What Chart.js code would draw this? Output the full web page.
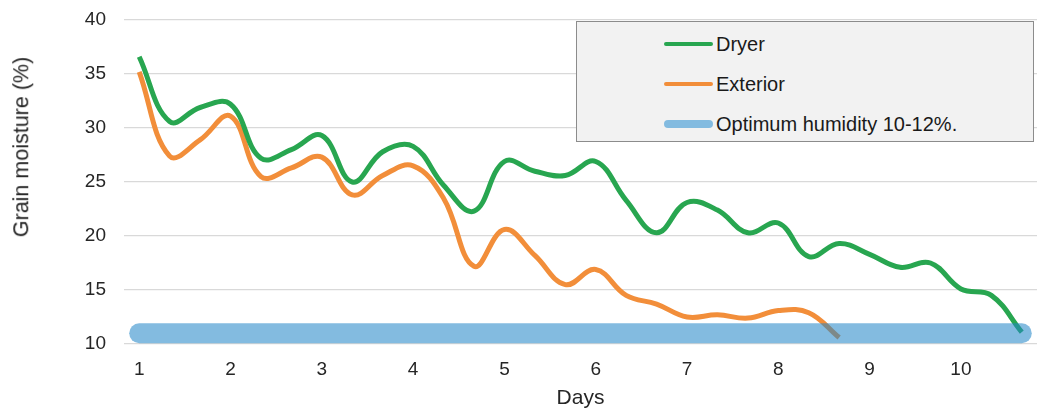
<!DOCTYPE html>
<html>
<head>
<meta charset="utf-8">
<script src="https://cdn.jsdelivr.net/npm/chart.js@4"></script>
<style>
  body { margin: 0; background: #fff; font-family: "Liberation Sans", Arial, sans-serif; }
  #wrap { position: relative; width: 1037px; height: 414px; }
  #legend {
    position: absolute; left: 576px; top: 21px; width: 458px; height: 121px;
    background: #f2f2f2; border: 1px solid #8c8c8c; box-sizing: border-box;
  }
  .item { position: absolute; left: 87px; height: 24px; display: flex; align-items: center; font-size: 20px; color: #1a1a1a; }
  .swatch { width: 49px; border-radius: 4px; margin-right: 3px; }
  #ytitle {
    position: absolute; left: 22px; top: 147px; white-space: nowrap;
    font-size: 21.5px; color: #262626; line-height: 1;
    transform: translate(-50%, -50%) rotate(-90deg);
  }
</style>
</head>
<body>
<div id="wrap">
  <canvas id="linechart" width="1037" height="414"></canvas>
  <div id="ytitle">Grain moisture (%)</div>
  <div id="legend"></div>
</div>
<script>
const days = [1, 2, 3, 4, 5, 6, 7, 8, 9, 10];
// three readings per day, only the first one carries the day label
const labels = days.flatMap(d => [String(d), '', '']);

const dryer = [36.6, 30.6, 31.9, 32.2, 27.2, 28.0, 29.3, 25.0, 27.8, 28.3,
               24.7, 22.3, 26.9, 26.0, 25.6, 26.9, 23.3, 20.3, 23.1, 22.4,
               20.3, 21.2, 18.1, 19.3, 18.3, 17.1, 17.5, 15.1, 14.5, 11.1];
const exterior = [35.2, 27.4, 28.9, 31.1, 25.5, 26.3, 27.3, 23.8, 25.6, 26.5,
                  23.5, 17.2, 20.6, 18.2, 15.5, 16.9, 14.5, 13.7, 12.5, 12.7,
                  12.4, 13.1, 12.9, 10.6];
const optimum = [11, 11, 11, 11, 11, 11, 11, 11, 11, 11,
                 11, 11, 11, 11, 11, 11, 11, 11, 11, 11,
                 11, 11, 11, 11, 11, 11, 11, 11, 11, 11];

const yTicks = [10, 15, 20, 25, 30, 35, 40];

const ctx = document.getElementById('linechart');

const chart = new Chart(ctx, {
    type: 'line',
    data: {
        labels: labels,
        datasets: [{
            label: 'Dryer',
            data: dryer,
            borderColor: 'rgb(40, 166, 80)',
            borderWidth: 5,
            tension: 0.4,
            pointRadius: 0,
            swatch: 4
        }, {
            label: 'Exterior',
            data: exterior,
            borderColor: 'rgb(242, 142, 58)',
            borderWidth: 5,
            tension: 0.4,
            pointRadius: 0,
            swatch: 4
        }, {
            label: 'Optimum humidity 10-12%.',
            data: optimum,
            borderColor: 'rgba(34, 134, 200, 0.56)',
            borderWidth: 20,
            borderCapStyle: 'round',
            pointRadius: 0,
            order: -1,
            clip: false,
            swatch: 8
        }]
    },
    options: {
        responsive: false,
        animation: false,
        layout: {
            padding: { top: 0, right: -4, bottom: 0, left: 0 }
        },
        plugins: {
            legend: { display: false },
            tooltip: { enabled: false }
        },
        scales: {
            x: {
                offset: true,
                afterFit: scale => { scale.height = 70; },
                grid: { display: false, drawTicks: false },
                border: { display: false },
                ticks: {
                    autoSkip: false,
                    maxRotation: 0,
                    padding: 14,
                    color: '#262626',
                    font: { family: 'Liberation Sans', size: 19 }
                },
                title: {
                    display: true,
                    text: 'Days',
                    color: '#262626',
                    padding: { top: 4, bottom: 3 },
                    font: { family: 'Liberation Sans', size: 21 }
                }
            },
            y: {
                min: 10,
                max: 40,
                afterBuildTicks: scale => { scale.ticks = yTicks.map(v => ({ value: v })); },
                afterFit: scale => {
                    scale.width = 124;
                    scale.paddingTop = 20;
                    scale.paddingBottom = 0;
                },
                grid: { color: '#d9d9d9', lineWidth: 1.2, drawTicks: false },
                border: { display: false },
                ticks: {
                    padding: 18,
                    color: '#262626',
                    font: { family: 'Liberation Sans', size: 19 }
                }
            }
        }
    }
});

// legend box in the upper right, built from the datasets
const legend = document.getElementById('legend');
chart.data.datasets.forEach((ds, i) => {
    const item = document.createElement('div');
    item.className = 'item';
    item.style.top = (10 + i * 40) + 'px';
    const sw = document.createElement('span');
    sw.className = 'swatch';
    sw.style.height = ds.swatch + 'px';
    sw.style.background = i === 2 ? 'rgb(131, 187, 224)' : ds.borderColor;
    item.appendChild(sw);
    item.appendChild(document.createTextNode(ds.label));
    legend.appendChild(item);
});
</script>
</body>
</html>
